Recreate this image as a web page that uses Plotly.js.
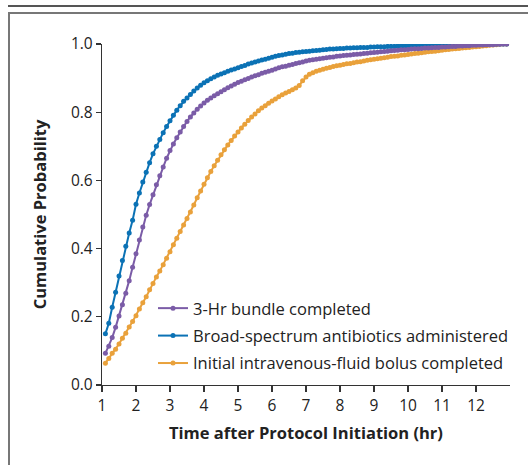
<!DOCTYPE html>
<html>
<head>
<meta charset="utf-8">
<script src="https://cdn.plot.ly/plotly-3.0.1.min.js"></script>
<style>
  html, body { margin: 0; padding: 0; background: #fff; }
  #wrap { position: relative; width: 528px; height: 465px; overflow: hidden; }
  #chart { position: absolute; left: 0; top: 0; width: 528px; height: 465px; }
  #topline { position: absolute; left: 8px; top: 5px; width: 520px; height: 2px; background: #555; z-index: 5; }
  #box { position: absolute; left: 8px; top: 12px; width: 540px; height: 470px; border-top: 2px solid #777; border-left: 2px solid #777; z-index: 5; pointer-events: none; }
</style>
</head>
<body>
<div id="wrap">
  <div id="chart"></div>
  <div id="topline"></div>
  <div id="box"></div>
</div>
<script>
// Time after protocol initiation (hr)
var hours = [
  1.1,1.2,1.3,1.4,1.5,1.6,1.7,1.8,1.9,2.0,
  2.1,2.2,2.3,2.4,2.5,2.6,2.7,2.8,2.9,3.0,
  3.1,3.2,3.3,3.4,3.5,3.6,3.7,3.8,3.9,4.0,
  4.1,4.2,4.3,4.4,4.5,4.6,4.7,4.8,4.9,5.0,
  5.1,5.2,5.3,5.4,5.5,5.6,5.7,5.8,5.9,6.0,
  6.1,6.2,6.3,6.4,6.5,6.6,6.7,6.8,6.9,7.0,
  7.1,7.2,7.3,7.4,7.5,7.6,7.7,7.8,7.9,8.0,
  8.1,8.2,8.3,8.4,8.5,8.6,8.7,8.8,8.9,9.0,
  9.1,9.2,9.3,9.4,9.5,9.6,9.7,9.8,9.9,10.0,
  10.1,10.2,10.3,10.4,10.5,10.6,10.7,10.8,10.9,11.0,
  11.1,11.2,11.3,11.4,11.5,11.6,11.7,11.8,11.9,12.0,
  12.1,12.2,12.3,12.4,12.5,12.6,12.7,12.8,12.9
];

// 3-Hr bundle completed
var bundle = [
  0.093,0.114,0.139,0.169,0.202,0.235,0.269,0.306,0.345,0.385,
  0.425,0.463,0.498,0.529,0.558,0.587,0.614,0.639,0.665,0.688,
  0.707,0.725,0.742,0.758,0.773,0.786,0.798,0.809,0.818,0.827,
  0.835,0.842,0.848,0.854,0.860,0.866,0.872,0.877,0.882,0.887,
  0.891,0.895,0.899,0.903,0.907,0.910,0.914,0.917,0.920,0.923,
  0.927,0.930,0.933,0.935,0.938,0.940,0.943,0.945,0.947,0.950,
  0.952,0.954,0.955,0.957,0.958,0.960,0.961,0.962,0.964,0.965,
  0.966,0.967,0.968,0.969,0.970,0.971,0.972,0.973,0.974,0.975,
  0.976,0.977,0.978,0.979,0.980,0.981,0.982,0.983,0.983,0.984,
  0.985,0.986,0.986,0.987,0.988,0.988,0.989,0.990,0.990,0.991,
  0.991,0.992,0.993,0.993,0.994,0.994,0.995,0.995,0.996,0.996,
  0.997,0.997,0.998,0.998,0.998,0.999,0.999,1.000,1.000
];

// Broad-spectrum antibiotics administered
var antibiotics = [
  0.150,0.181,0.228,0.272,0.320,0.365,0.407,0.446,0.483,0.530,
  0.563,0.595,0.624,0.652,0.678,0.700,0.720,0.740,0.758,0.775,
  0.791,0.806,0.819,0.832,0.842,0.852,0.862,0.871,0.879,0.886,
  0.892,0.898,0.903,0.908,0.912,0.916,0.920,0.924,0.927,0.930,
  0.934,0.937,0.941,0.944,0.947,0.950,0.953,0.955,0.958,0.961,
  0.964,0.966,0.968,0.970,0.972,0.973,0.975,0.976,0.977,0.978,
  0.979,0.980,0.981,0.982,0.983,0.984,0.985,0.985,0.986,0.987,
  0.987,0.988,0.988,0.989,0.989,0.990,0.990,0.990,0.991,0.991,
  0.992,0.992,0.992,0.993,0.993,0.993,0.994,0.994,0.994,0.995,
  0.995,0.995,0.995,0.996,0.996,0.996,0.996,0.997,0.997,0.997,
  0.997,0.997,0.998,0.998,0.998,0.998,0.998,0.999,0.999,0.999,
  0.999,0.999,0.999,1.000,1.000,1.000,1.000,1.000,1.000
];

// Initial intravenous-fluid bolus completed
var fluid = [
  0.064,0.078,0.093,0.105,0.120,0.137,0.152,0.170,0.186,0.203,
  0.223,0.241,0.259,0.279,0.298,0.317,0.334,0.353,0.372,0.391,
  0.411,0.430,0.450,0.469,0.488,0.507,0.528,0.549,0.569,0.589,
  0.608,0.626,0.643,0.659,0.675,0.690,0.704,0.717,0.730,0.742,
  0.754,0.765,0.776,0.786,0.795,0.804,0.812,0.819,0.826,0.833,
  0.839,0.845,0.851,0.856,0.861,0.866,0.871,0.878,0.892,0.903,
  0.911,0.916,0.920,0.923,0.926,0.929,0.931,0.934,0.936,0.938,
  0.940,0.942,0.943,0.945,0.947,0.948,0.950,0.952,0.954,0.955,
  0.957,0.958,0.960,0.961,0.963,0.964,0.965,0.967,0.968,0.969,
  0.971,0.972,0.973,0.974,0.976,0.977,0.978,0.979,0.980,0.982,
  0.983,0.984,0.985,0.986,0.987,0.988,0.989,0.990,0.991,0.992,
  0.993,0.994,0.995,0.996,0.997,0.998,0.999,1.000,1.000
];

var seriesNames = [
  "3-Hr bundle completed",
  "Broad-spectrum antibiotics administered",
  "Initial intravenous-fluid bolus completed"
];
var xTicks = [1,2,3,4,5,6,7,8,9,10,11,12];
var yTicks = [0,0.2,0.4,0.6,0.8,1.0];

var colors = { bundle: "#7B5CA7", antibiotics: "#0B72B5", fluid: "#E9A13B" };

function mk(y, name, color, grp, rank) {
  return {
    x: hours, y: y, name: name, type: "scatter", mode: "lines+markers",
    line: { color: color, width: 2 },
    marker: { color: color, size: 5 },
    legendgroup: grp, legendrank: rank
  };
}

var data = [
  mk(fluid, seriesNames[2], colors.fluid, "c", 3),
  mk(antibiotics, seriesNames[1], colors.antibiotics, "b", 2),
  mk(bundle, seriesNames[0], colors.bundle, "a", 1)
];

var font = "Open Sans, Noto Sans, sans-serif";

var layout = {
  width: 528, height: 465,
  margin: { l: 102, r: 18, t: 44, b: 80, pad: 0 },
  paper_bgcolor: "rgba(0,0,0,0)",
  plot_bgcolor: "rgba(0,0,0,0)",
  font: { family: font, size: 15, color: "#222" },
  showlegend: true,
  legend: {
    x: 0.125, y: 0.012, xanchor: "left", yanchor: "bottom",
    traceorder: "grouped", tracegroupgap: 3, itemwidth: 30,
    bgcolor: "rgba(0,0,0,0)",
    font: { family: font, size: 16.5, color: "#222" }
  },
  xaxis: {
    range: [1, 13], tickvals: xTicks, ticktext: xTicks.map(String),
    showgrid: false, zeroline: false, showline: true,
    linecolor: "#333", linewidth: 1.2,
    ticks: "outside", ticklen: 6, tickcolor: "#333", tickwidth: 1.2,
    tickfont: { family: font, size: 15.5, color: "#222" },
    title: { text: "Time after Protocol Initiation (hr)", standoff: 12,
             font: { family: font, size: 16.5, color: "#222", weight: "bold" } }
  },
  yaxis: {
    range: [0, 1], tickvals: yTicks, tickformat: ".1f",
    showgrid: false, zeroline: false, showline: true,
    linecolor: "#333", linewidth: 1.2,
    ticks: "outside", ticklen: 5, tickcolor: "#333", tickwidth: 1.2,
    tickfont: { family: font, size: 15.5, color: "#222" },
    title: { text: "Cumulative Probability", standoff: 20,
             font: { family: font, size: 16.5, color: "#222", weight: "bold" } }
  }
};

Plotly.newPlot("chart", data, layout, { displayModeBar: false, staticPlot: true });
</script>
</body>
</html>
